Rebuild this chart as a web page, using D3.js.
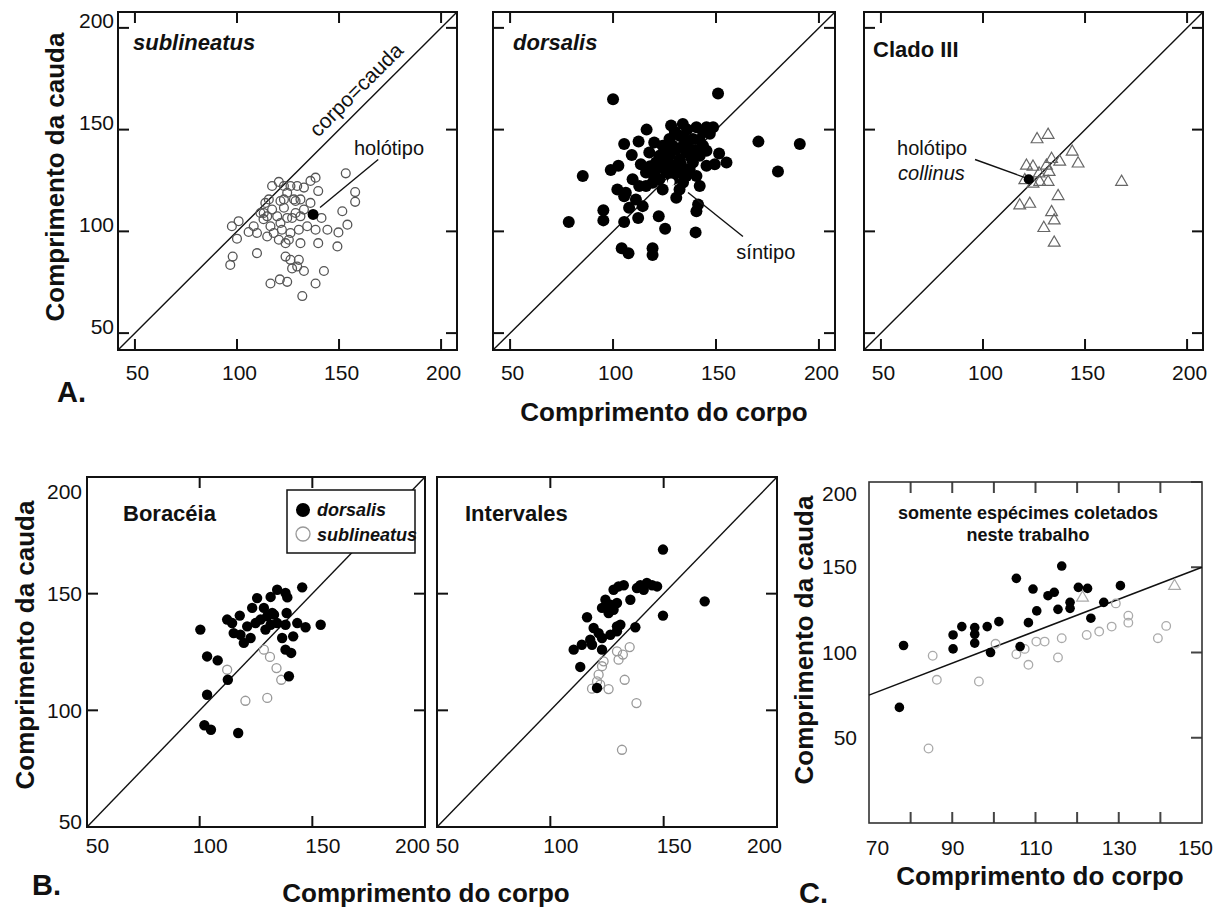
<!DOCTYPE html>
<html>
<head>
<meta charset="utf-8">
<script src="https://cdnjs.cloudflare.com/ajax/libs/d3/7.8.5/d3.min.js"></script>
<style>
  body { margin: 0; background: #fff; }
  svg { display: block; }
  text { font-family: "Liberation Sans", Arial, Helvetica, sans-serif; fill: #111; }
</style>
</head>
<body>
<svg id="fig" width="1224" height="911"></svg>
<script>
// ---- data (comprimento do corpo, comprimento da cauda) ----
const sublineatusA = [[97.5,102.5],[100.8,105],[100,96.4],[97.9,87.6],[96.7,83.5],[105.7,99.7],[108.2,102.5],[109.8,89.3],[109.8,99.2],[113.1,109],[113.9,114],[113,106],[114.8,97.5],[117.2,122.3],[120.5,124.3],[117.2,110.7],[116.4,102.5],[118,99.2],[120.5,95.9],[121.3,114.9],[123,111.6],[122,100.8],[124.6,119],[123.8,94.2],[123.8,87.6],[126.2,86],[125.4,95.9],[127,106.6],[127.9,115.7],[129.5,122.3],[128.7,109],[130.3,100.8],[131.1,94.2],[130.3,86],[127,81.8],[116.4,74.4],[121,76.4],[124.6,75.2],[132,68.2],[132.8,80.5],[129.5,82.7],[132.8,121.5],[136,124.8],[138.5,126.4],[136,114],[139.8,119.8],[132.8,110.7],[134.4,102.5],[138.5,100.8],[139.8,94.2],[141.4,106.6],[144.3,100.8],[138.5,74.4],[142.6,80.5],[149.2,92.6],[149.7,99.5],[151.6,109.9],[154.1,103.3],[153.3,128.5],[157.9,119.3],[157.9,114.5],[124.6,106.6],[119.7,107.4],[121.3,104.1],[128.7,114.9],[131.1,115.7],[131.1,107.4],[123,122.3],[126.2,122.3],[114.8,107.4],[115.6,115.7],[111.5,109],[123,115.7],[126.2,99.2]];
const holotipoSub = [137.3, 108.3];

const dorsalisA = [[100,164.9],[151,167.7],[78.5,104.6],[85.3,127.2],[95.3,110.4],[95.3,105.4],[105.4,104.6],[104.2,91.7],[107.5,89.3],[119.2,91.7],[119.2,88.4],[122.2,107.4],[125.3,101.3],[112.2,106.6],[140.1,99.5],[140.5,109.9],[141.3,113.2],[170.6,144.1],[190.7,142.9],[180.1,129.4],[155.1,133.8],[151.5,138.3],[105.4,142.9],[112.4,144.2],[116.3,150],[109.1,137.5],[98.9,130.2],[102.6,132.2],[102.1,120.6],[105.4,117.3],[107.8,111.6],[114.4,112.4],[113.5,133],[120,143.7],[128.2,152],[133.9,152.8],[140.5,151.2],[145.4,151.2],[148.6,151.2],[143.7,148.7],[138.8,145.4],[143.7,142.1],[145.4,132.2],[149.4,133],[142.1,122.3],[132.3,120.6],[129,125.6],[124.1,120.6],[130.7,116.5],[120.9,130.5],[125.8,137.1],[129,142.1],[132.3,147],[135.6,138.8],[137.2,130.5],[122.5,137.1],[117.6,138.8],[116,128.9],[119.2,123.9],[112.7,122.3],[109.5,125.6],[111.1,115.7],[106.2,119],[132.3,135.5],[129,132.2],[125.8,128.9],[138.8,133.8],[140.5,127.2],[135.6,127.2],[124.1,142.1],[127.4,145.4],[120.9,133.8],[116,122.3],[127.4,137.1],[130.7,140.4],[134,142.1],[137.2,140.4],[122.5,125.6],[132.3,128.9],[142.1,137.1],[145.4,139.6],[135,145],[140,140],[128,128],[133,133],[125,133],[138,136],[142,145],[147,148],[130,149],[120,127],[118,132],[134,124],[126,140],[136,150]];
const sintipo = [128.2, 124.3];

const cladoIII = [[126.5,145.7],[131.9,147.9],[143.7,139.6],[146.6,133.8],[137.6,134.7],[133.6,136],[121.3,132.7],[124.5,132.2],[131.1,132.7],[132.4,129.7],[127.5,128.9],[120.5,125.6],[124.5,123.9],[127.8,124.8],[131.9,124.8],[167.9,124.8],[136.8,117.8],[118,113.2],[122.9,114],[133.6,109.9],[134.9,105.8],[129.8,102.1],[134.9,94.9]];
const holotipoCollinus = [122.4, 125.6];

const boraceiaDorsalis = [[100.3,134.6],[103.3,123.1],[108,121.4],[103.3,106.7],[102.1,93.6],[105,91.7],[112.5,113.1],[117.1,90.3],[112.2,138.9],[114.4,137.4],[117.8,140.6],[118.1,132.4],[119.6,128.9],[122.6,131],[121.1,136],[124.8,137.4],[123.3,143.9],[125.5,148.1],[131.5,148.6],[134.4,151.7],[138.1,150.3],[138.9,148.4],[128.5,143.9],[130,140.3],[133,141],[129.2,134.6],[131.5,136.7],[134.4,137.4],[138.1,136.7],[138.6,141.7],[145.5,152.7],[143.3,137.4],[147,135.6],[153.7,136.7],[136.6,131],[141.5,131.7],[138.1,126],[140.6,124.6],[139.6,114.6],[115.1,133.1],[127,138.9],[132.2,141.7]];
const boraceiaSublineatus = [[112.2,117.4],[120.3,104.1],[128.5,126],[131.2,122.9],[134.1,118.1],[136.2,113.1],[130,105.3]];

const intervalesDorsalis = [[149.7,168.9],[168.1,146.7],[149.7,140.6],[137.5,135.6],[135.3,147.4],[110.3,126],[113.9,128.1],[113.2,118.6],[116.2,139.9],[118.4,128.1],[117.6,130.3],[119.1,135.3],[121.3,133.1],[122.8,126],[122.8,131],[122.8,143.9],[124.3,147.4],[126.5,145.3],[127.9,143.1],[129.4,146],[126.5,132.4],[129.4,136],[130.9,136.7],[129.4,133.9],[127.9,151.7],[130.1,153.1],[132.4,153.6],[138.2,152.4],[139.7,153.6],[142.6,154.6],[144.9,153.6],[147.1,153.1],[141.2,151.7],[125.7,141.7],[120.6,109.6]];
const intervalesSublineatus = [[135,127.1],[132,123.9],[130.1,121.7],[129.4,125.3],[123.5,121],[122.8,118.9],[121.3,115.3],[120.6,112.4],[118.4,109.3],[122,111],[125.7,109.1],[132.8,113.1],[138,103.1],[131.6,83.1]];

const coletDorsalis = [[78.3,104.1],[77.3,67.8],[90.2,110.3],[90.2,102.1],[92.3,115.2],[95.4,114.6],[95.4,110.7],[95.4,105.5],[98.4,115.2],[101.2,118.1],[99.2,100],[105.4,143.5],[106.3,103.5],[108.3,117.5],[109.4,137.2],[110.3,124.4],[113,133.3],[114.5,135.3],[115.4,125.3],[116.3,150.7],[118.3,129.4],[118.3,125.9],[120.3,138.2],[122.5,137.6],[123.3,120.1],[126.4,129.4],[130.4,139.2]];
const coletSublineatus = [[85.3,98.1],[86.3,84],[84.3,43.7],[96.4,83],[100.4,105.1],[105.4,99],[107.4,102.1],[108.3,92.8],[110.2,106.4],[112.2,106.4],[115.4,97.1],[116.3,108.4],[122.3,110.3],[125.3,112.3],[128.3,115.2],[129.3,128.8],[132.3,121.6],[132.3,117.5],[139.4,108.4],[141.4,115.6]];
const coletClado = [[121.3,132.7],[143.4,139.6]];
const regLine = [[70, 75], [150, 150]];

// ---- tick values ----
const ticksA = [50, 100, 150, 200];
const ticksBmarks = [100, 150];
const ticksBlabels = [50, 100, 150, 200];
const ticksCxMarks = [80, 90, 100, 110, 120, 130, 140];
const ticksCxLabels = [70, 90, 110, 130, 150];
const ticksCy = [50, 100, 150, 200];
const domA = [41.7, 207.8];
const domB = [50, 200];
const domCx = [70, 150];
const domCy = [0, 200];

const fig = d3.select("#fig");

function makePanel(x0, x1, y0, y1, xDom, yDom) {
    const x = d3.scaleLinear().domain(xDom).range([x0, x1]);
    const y = d3.scaleLinear().domain(yDom).range([y1, y0]);
    const g = fig.append("g");
    return { g, x, y, x0, x1, y0, y1 };
}

function frame(p, color, width) {
    p.g.append("rect")
        .attr("x", p.x0).attr("y", p.y0)
        .attr("width", p.x1 - p.x0).attr("height", p.y1 - p.y0)
        .attr("fill", "none")
        .attr("stroke", color)
        .attr("stroke-width", width);
}

// inward tick marks, no labels
function tickMarks(p, xVals, yVals, color, sides) {
    const g = p.g.append("g").attr("stroke", color).attr("stroke-width", 2);
    const len = 11;
    if (sides.includes("b")) g.selectAll(null).data(xVals).join("line")
        .attr("x1", d => p.x(d)).attr("x2", d => p.x(d)).attr("y1", p.y1).attr("y2", p.y1 - len);
    if (sides.includes("t")) g.selectAll(null).data(xVals).join("line")
        .attr("x1", d => p.x(d)).attr("x2", d => p.x(d)).attr("y1", p.y0).attr("y2", p.y0 + len);
    if (sides.includes("l")) g.selectAll(null).data(yVals).join("line")
        .attr("y1", d => p.y(d)).attr("y2", d => p.y(d)).attr("x1", p.x0).attr("x2", p.x0 + len);
    if (sides.includes("r")) g.selectAll(null).data(yVals).join("line")
        .attr("y1", d => p.y(d)).attr("y2", d => p.y(d)).attr("x1", p.x1).attr("x2", p.x1 - len);
}

function xLabels(p, vals, pad, dxFn) {
    const a = p.g.append("g").attr("transform", `translate(0,${p.y1})`)
        .call(d3.axisBottom(p.x).tickValues(vals).tickSize(0).tickPadding(pad));
    a.select(".domain").remove();
    a.selectAll("text")
        .style("font-family", '"Liberation Sans", Arial, sans-serif')
        .style("font-size", "21px")
        .attr("fill", "#222")
        .attr("dx", dxFn);
}

function yLabels(p, vals, pad, dyFn) {
    const a = p.g.append("g").attr("transform", `translate(${p.x0},0)`)
        .call(d3.axisLeft(p.y).tickValues(vals).tickSize(0).tickPadding(pad));
    a.select(".domain").remove();
    a.selectAll("text")
        .style("font-family", '"Liberation Sans", Arial, sans-serif')
        .style("font-size", "21px")
        .attr("fill", "#222")
        .attr("dy", dyFn);
}

function diagonal(p, dom) {
    p.g.append("line")
        .attr("x1", p.x(dom[0])).attr("y1", p.y(dom[0]))
        .attr("x2", p.x(dom[1])).attr("y2", p.y(dom[1]))
        .attr("stroke", "#111").attr("stroke-width", 1.4);
}

function openCircles(p, data, r, color) {
    p.g.append("g").selectAll("circle").data(data).join("circle")
        .attr("cx", d => p.x(d[0])).attr("cy", d => p.y(d[1]))
        .attr("r", r).attr("fill", "none")
        .attr("stroke", color).attr("stroke-width", 1.3);
}

function dots(p, data, r) {
    p.g.append("g").selectAll("circle").data(data).join("circle")
        .attr("cx", d => p.x(d[0])).attr("cy", d => p.y(d[1]))
        .attr("r", r).attr("fill", "#000");
}

function triangles(p, data, size, color) {
    const sym = d3.symbol().type(d3.symbolTriangle).size(size);
    p.g.append("g").selectAll("path").data(data).join("path")
        .attr("d", sym)
        .attr("transform", d => `translate(${p.x(d[0])},${p.y(d[1]) + 1})`)
        .attr("fill", "none").attr("stroke", color).attr("stroke-width", 1.2);
}

function label(txt, x, y, size, weight, style, anchor) {
    return fig.append("text").attr("x", x).attr("y", y)
        .attr("text-anchor", anchor || "start")
        .style("font-size", size + "px")
        .style("font-weight", weight || "normal")
        .style("font-style", style || "normal")
        .text(txt);
}

function yTitle(x, y) {
    fig.append("text")
        .attr("transform", `translate(${x},${y}) rotate(-90)`)
        .attr("text-anchor", "middle")
        .style("font-size", "26px").style("font-weight", "bold")
        .text("Comprimento da cauda");
}

function pointer(p, from, to) {
    p.g.append("line")
        .attr("x1", p.x(from[0])).attr("y1", p.y(from[1]))
        .attr("x2", p.x(to[0])).attr("y2", p.y(to[1]))
        .attr("stroke", "#111").attr("stroke-width", 1.4);
}

// ================= A =================
const a1 = makePanel(118, 457, 12, 350, domA, domA);
const a2 = makePanel(493, 835, 12, 350, domA, domA);
const a3 = makePanel(864, 1203, 12, 350, domA, domA);

[a1, a2, a3].forEach(p => {
    diagonal(p, domA);
    tickMarks(p, ticksA, ticksA, "#111", "btlr");
    frame(p, "#111", 2);
    xLabels(p, ticksA, 15, 2);
});
yLabels(a1, ticksA, 4, 0);

// sublineatus
openCircles(a1, sublineatusA, 4.4, "#555");
pointer(a1, [169.2, 135.3], [140.7, 111.7]);
dots(a1, [holotipoSub], 5.5);
label("holótipo", a1.x(174.5), a1.y(137.7), 20, "normal", "normal", "middle");
label("sublineatus", 133, 50, 22, "bold", "italic");
fig.append("text")
    .attr("transform", `translate(${a1.x(164)},${a1.y(164)}) rotate(-45)`)
    .attr("dy", -9)
    .attr("text-anchor", "middle")
    .style("font-size", "21px")
    .text("corpo=cauda");

// dorsalis
dots(a2, dorsalisA, 6);
a2.g.append("circle").attr("cx", a2.x(sintipo[0])).attr("cy", a2.y(sintipo[1]))
    .attr("r", 3.5).attr("fill", "#fff");
pointer(a2, [163.1, 97.5], [136.4, 119.1]);
label("síntipo", a2.x(174.2), a2.y(86.2), 20, "normal", "normal", "middle");
label("dorsalis", 513, 50, 22, "bold", "italic");

// Clado III
triangles(a3, cladoIII, 60, "#666");
pointer(a3, [96.1, 135.3], [120.6, 126.4]);
dots(a3, [holotipoCollinus], 5);
label("holótipo", a3.x(57.9), a3.y(137.7), 20);
label("collinus", a3.x(58.4), a3.y(125.4), 20, "normal", "italic");
label("Clado III", 873, 57, 22, "bold");

yTitle(64, 177);
label("Comprimento do corpo", 664, 421, 26, "bold", "normal", "middle");
label("A.", 57, 402, 29, "bold");

// ================= B =================
const b1 = makePanel(87, 425, 477, 827, domB, domB);
const b2 = makePanel(437, 777, 477, 827, domB, domB);
const bDx = d => d === 200 ? -13 : 10;

[b1, b2].forEach(p => {
    diagonal(p, domB);
    tickMarks(p, ticksBmarks, ticksBmarks, "#111", "btlr");
    frame(p, "#111", 2);
    xLabels(p, ticksBlabels, 11, bDx);
});
yLabels(b1, ticksBlabels, 5, d => d === 200 ? "1.0em" : d === 50 ? "0.05em" : "0.32em");

openCircles(b1, boraceiaSublineatus, 4.5, "#999");
dots(b1, boraceiaDorsalis, 5.2);
label("Boracéia", 123, 521, 22, "bold");

// legend
const leg = fig.append("g");
leg.append("rect").attr("x", 287).attr("y", 490).attr("width", 128).attr("height", 63)
    .attr("fill", "#fff").attr("stroke", "#111").attr("stroke-width", 1.5);
leg.append("circle").attr("cx", 303).attr("cy", 510).attr("r", 7).attr("fill", "#000");
leg.append("circle").attr("cx", 303).attr("cy", 534).attr("r", 7)
    .attr("fill", "#fff").attr("stroke", "#999").attr("stroke-width", 1.3);
label("dorsalis", 317, 516, 18, "bold", "italic");
label("sublineatus", 317, 541, 18, "bold", "italic");

openCircles(b2, intervalesSublineatus, 4.5, "#999");
dots(b2, intervalesDorsalis, 5.2);
label("Intervales", 465, 521, 22, "bold");

yTitle(34, 645);
label("Comprimento do corpo", 426, 902, 26, "bold", "normal", "middle");
label("B.", 32, 895, 29, "bold");

// ================= C =================
const c = makePanel(869, 1202, 482, 823, domCx, domCy);
tickMarks(c, ticksCxMarks, ticksCy, "#444", "btr");
frame(c, "#333", 1.6);
xLabels(c, ticksCxLabels, 17, d => d === 70 ? 8 : d === 150 ? -7 : 0);
yLabels(c, ticksCy, 12, d => d === 200 ? "0.9em" : "0.32em");

c.g.append("line")
    .attr("x1", c.x(regLine[0][0])).attr("y1", c.y(regLine[0][1]))
    .attr("x2", c.x(regLine[1][0])).attr("y2", c.y(regLine[1][1]))
    .attr("stroke", "#111").attr("stroke-width", 1.5);

openCircles(c, coletSublineatus, 4.3, "#aaa");
triangles(c, coletClado, 60, "#aaa");
dots(c, coletDorsalis, 4.8);

label("somente espécimes coletados", 1028, 519, 18, "bold", "normal", "middle");
label("neste trabalho", 1028, 541, 18, "bold", "normal", "middle");

yTitle(813, 640);
label("Comprimento do corpo", 1040, 885, 26, "bold", "normal", "middle");
label("C.", 799, 903, 29, "bold");
</script>
</body>
</html>
